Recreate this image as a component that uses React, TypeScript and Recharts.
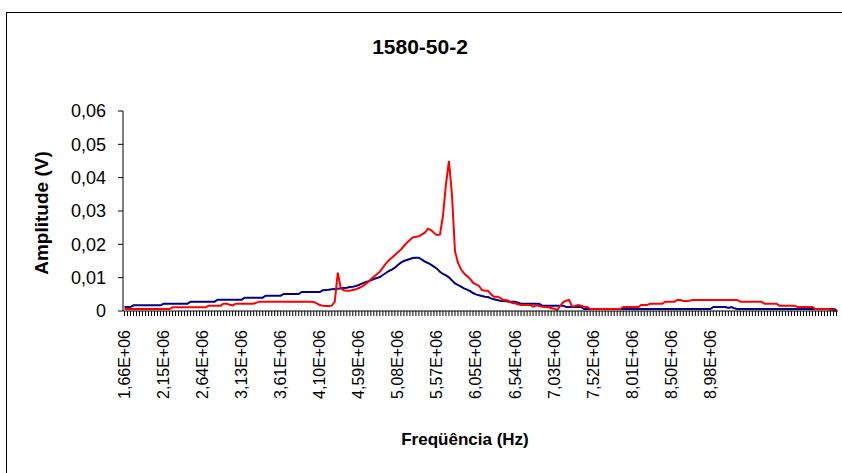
import { LineChart, Line, XAxis, YAxis } from "recharts";

const chartTitle = "1580-50-2";
const xTitle = "Freqüência (Hz)";
const yTitle = "Amplitude (V)";

// one label every 13 frequency steps
const freqLabels = [
  "1,66E+06", "2,15E+06", "2,64E+06", "3,13E+06", "3,61E+06", "4,10E+06",
  "4,59E+06", "5,08E+06", "5,57E+06", "6,05E+06", "6,54E+06", "7,03E+06",
  "7,52E+06", "8,01E+06", "8,50E+06", "8,98E+06",
];
const labelEvery = 13;

const yTicks = [0, 0.01, 0.02, 0.03, 0.04, 0.05, 0.06];
const yTickLabels = ["0", "0,01", "0,02", "0,03", "0,04", "0,05", "0,06"];

// navy series (238 points)
const blueSeries = [
  0.0012, 0.0012, 0.0012,
  0.0017, 0.0017, 0.0017, 0.0017, 0.0017, 0.0017, 0.0017, 0.0017, 0.0017, 0.0017,
  0.0022, 0.0022, 0.0022, 0.0022, 0.0022, 0.0022, 0.0022, 0.0022, 0.0022,
  0.0028, 0.0028, 0.0028, 0.0028, 0.0028, 0.0028, 0.0028, 0.0028, 0.0028,
  0.0034, 0.0034, 0.0034, 0.0034, 0.0034, 0.0034, 0.0034, 0.0034, 0.0034,
  0.004, 0.004, 0.004, 0.004, 0.004, 0.004, 0.004,
  0.0046, 0.0046, 0.0046, 0.0046, 0.0046, 0.0046,
  0.0051, 0.0051, 0.0051, 0.0051, 0.0051, 0.0051,
  0.0057, 0.0057, 0.0057, 0.0057, 0.0057, 0.0057, 0.0057,
  0.0062, 0.0063, 0.0064, 0.0065, 0.0066, 0.0067, 0.0068, 0.0069, 0.007, 0.0072,
  0.0073, 0.0075, 0.0078, 0.0082, 0.0086, 0.0089, 0.0092, 0.0096, 0.0099, 0.0102,
  0.0108, 0.0114, 0.012, 0.0124, 0.013, 0.0138, 0.0145, 0.015, 0.0153, 0.0156,
  0.0159, 0.016, 0.016, 0.0154, 0.0148, 0.0144, 0.0139, 0.0133, 0.0127, 0.0118,
  0.0111, 0.0107, 0.0101, 0.0092, 0.0083, 0.0078, 0.0073, 0.0068, 0.0064, 0.006,
  0.0054, 0.005, 0.0047, 0.0045, 0.0043, 0.0042, 0.0038, 0.0035, 0.0033, 0.0031,
  0.003, 0.0029, 0.0028, 0.0028, 0.0028, 0.0025,
  0.0022, 0.0022, 0.0022, 0.0022, 0.0022, 0.0022, 0.0022,
  0.0016, 0.0016, 0.0016, 0.0016, 0.0016, 0.0016, 0.0016, 0.0016,
  0.0012, 0.0012, 0.0012, 0.0012, 0.0012, 0.0012,
  0.0006, 0.0006, 0.0006, 0.0006, 0.0006, 0.0006, 0.0006, 0.0006, 0.0006, 0.0006,
  0.0006, 0.0006, 0.0006, 0.0006, 0.0006, 0.0006, 0.0006, 0.0006, 0.0006, 0.0006,
  0.0006, 0.0006, 0.0006, 0.0006, 0.0006, 0.0006, 0.0006, 0.0006, 0.0006, 0.0006,
  0.0006, 0.0006, 0.0006, 0.0006, 0.0006, 0.0006, 0.0006, 0.0006, 0.0006, 0.0006,
  0.0006, 0.0006, 0.0006,
  0.0012, 0.0012, 0.0012, 0.0012, 0.0012, 0.0009, 0.0012, 0.0008,
  0.0006, 0.0006, 0.0006, 0.0006, 0.0006, 0.0006, 0.0006, 0.0006, 0.0006, 0.0006,
  0.0006, 0.0006, 0.0006, 0.0006, 0.0006, 0.0006, 0.0006, 0.0006, 0.0006, 0.0006,
  0.0006, 0.0006, 0.0006, 0.0006, 0.0006, 0.0006, 0.0006, 0.0006, 0.0006, 0.0006,
  0.0006, 0.0006, 0.0006,
  0.0003,
];

// red series (238 points)
const redSeries = [
  0.0006, 0.0006, 0.0006, 0.0006, 0.0006, 0.0006, 0.0006, 0.0006, 0.0006, 0.0006,
  0.0006, 0.0006, 0.0006, 0.0006, 0.0006, 0.0006,
  0.0011, 0.0011, 0.0011, 0.0011, 0.0011, 0.0011, 0.0011, 0.0011, 0.0011, 0.0011,
  0.0011, 0.0011,
  0.0016, 0.0016, 0.0016, 0.0016, 0.0016,
  0.0022, 0.0022, 0.0019, 0.0017,
  0.0022, 0.0022, 0.0022, 0.0022, 0.0022, 0.0022, 0.0022,
  0.0025,
  0.0028, 0.0028, 0.0028, 0.0028, 0.0028, 0.0028, 0.0028, 0.0028, 0.0028, 0.0028,
  0.0028, 0.0028, 0.0028, 0.0028, 0.0028, 0.0028, 0.0028, 0.0028,
  0.0027, 0.0023, 0.0018, 0.0016, 0.0015, 0.0015, 0.0016, 0.0028, 0.0115, 0.0068,
  0.0062, 0.0061, 0.0061, 0.0063, 0.0065, 0.0069, 0.0073, 0.0079, 0.0086, 0.0095,
  0.0103, 0.011, 0.0118, 0.013, 0.0142, 0.0152, 0.016, 0.0168, 0.0176, 0.0184,
  0.0195, 0.0205, 0.0213, 0.0221, 0.0223, 0.0224, 0.023, 0.0235, 0.0247, 0.0243,
  0.0235, 0.0228, 0.0229, 0.0285, 0.038, 0.045, 0.035, 0.018, 0.0145, 0.0125,
  0.0113, 0.0105, 0.0097, 0.0085, 0.008, 0.0075, 0.0063, 0.0061, 0.0061, 0.005,
  0.0043, 0.0043, 0.004, 0.0033, 0.0033, 0.003, 0.0024, 0.0023, 0.002, 0.0018,
  0.0018, 0.0018, 0.0018, 0.0013, 0.0017, 0.0015, 0.0013, 0.0012, 0.0011, 0.0009,
  0.0007, 0.0003, 0.0015, 0.0026, 0.0031, 0.0033, 0.0013, 0.0015, 0.0018, 0.0016,
  0.0013, 0.0012,
  0.0006, 0.0006, 0.0006, 0.0006, 0.0006, 0.0006, 0.0006, 0.0006, 0.0006, 0.0006,
  0.0006,
  0.0012, 0.0012, 0.0012, 0.0012, 0.0012, 0.0012,
  0.0018, 0.0018, 0.0018,
  0.0022, 0.0022, 0.0022, 0.0022, 0.0022,
  0.0028, 0.0028, 0.0028, 0.0028,
  0.0033, 0.0033, 0.003, 0.003, 0.0031,
  0.0033, 0.0033, 0.0033, 0.0033, 0.0033, 0.0033, 0.0033, 0.0033, 0.0033, 0.0033,
  0.0033, 0.0033, 0.0033, 0.0033, 0.0033, 0.0033,
  0.0028, 0.0028, 0.0028, 0.0028, 0.0028, 0.0028, 0.0028, 0.0028,
  0.0022, 0.0022, 0.0022, 0.0022, 0.0022,
  0.0016, 0.0016, 0.0016, 0.0016, 0.0016, 0.0016,
  0.0012, 0.0012, 0.0012, 0.0012, 0.0012, 0.0012,
  0.0006, 0.0006, 0.0006, 0.0006, 0.0006,
  0.0004, 0.0003, 0,
];

const categories = blueSeries.map((_, i) => i);

const data = categories.map((c) => ({
  idx: c,
  blue: blueSeries[c],
  red: redSeries[c],
}));

const font = "Arial, 'Liberation Sans', sans-serif";

function FreqTick({ x, y, payload }: any) {
  const i = payload.value;
  const label = i % labelEvery === 0 ? freqLabels[i / labelEvery] : undefined;
  if (!label) return <g />;
  return (
    <text
      x={x}
      y={y}
      transform={`rotate(-90 ${x} ${y})`}
      textAnchor="end"
      dominantBaseline="central"
      fontSize={16}
      fontFamily={font}
      fill="#000"
    >
      {label}
    </text>
  );
}

export default function App() {
  return (
    <div
      style={{
        position: "absolute",
        left: 0,
        top: 0,
        width: 842,
        height: 473,
        background: "#fff",
        overflow: "hidden",
        fontFamily: font,
      }}
    >
      <div
        style={{
          position: "absolute",
          left: 6,
          top: 12,
          width: 900,
          height: 500,
          border: "1px solid #000",
        }}
      />
      <div
        style={{
          position: "absolute",
          left: 420,
          top: 47,
          transform: "translate(-50%, -50%)",
          fontSize: 21,
          fontWeight: "bold",
          whiteSpace: "nowrap",
        }}
      >
        {chartTitle}
      </div>
      <div
        style={{
          position: "absolute",
          left: 42,
          top: 213,
          transform: "translate(-50%, -50%) rotate(-90deg)",
          fontSize: 19,
          fontWeight: "bold",
          whiteSpace: "nowrap",
        }}
      >
        {yTitle}
      </div>
      <div
        style={{
          position: "absolute",
          left: 465,
          top: 440,
          transform: "translate(-50%, -50%)",
          fontSize: 17,
          fontWeight: "bold",
          whiteSpace: "nowrap",
        }}
      >
        {xTitle}
      </div>
      <div style={{ position: "absolute", left: 0, top: 0 }}>
        <LineChart
          width={842}
          height={473}
          data={data}
          margin={{ top: 111, right: 4, bottom: 12, left: 63 }}
        >
          <XAxis
            dataKey="idx"
            type="category"
            interval={0}
            height={150}
            tick={<FreqTick />}
            tickSize={5}
            tickMargin={14}
            padding={{ left: 1.5, right: 1.5 }}
            stroke="#000"
            tickLine={{ stroke: "#000" }}
          />
          <YAxis
            domain={[0, 0.06]}
            ticks={yTicks}
            width={60}
            tickSize={5}
            tickMargin={12}
            stroke="#000"
            tickFormatter={(v: number) => yTickLabels[yTicks.indexOf(v)] ?? ""}
            tick={{ fontSize: 18, fill: "#000", fontFamily: font }}
          />
          <Line
            dataKey="blue"
            type="linear"
            stroke="#000080"
            strokeWidth={2}
            dot={false}
            isAnimationActive={false}
          />
          <Line
            dataKey="red"
            type="linear"
            stroke="#ff0000"
            strokeWidth={2}
            dot={false}
            isAnimationActive={false}
          />
        </LineChart>
      </div>
    </div>
  );
}
